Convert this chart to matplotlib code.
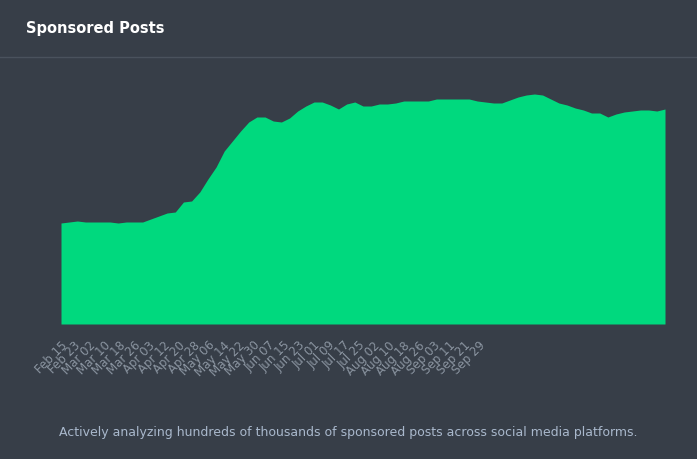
import matplotlib
matplotlib.use("Agg")
import matplotlib.pyplot as plt
import numpy as np

values = [101, 102, 103, 102, 102, 102, 102, 101, 102, 102, 102, 105, 108, 111, 112, 122, 123,
          132, 145, 157, 173, 183, 193, 202, 207, 207, 203, 202, 206, 213, 218, 222, 222, 219,
          215, 220, 222, 218, 218, 220, 220, 221, 223, 223, 223, 223, 225, 225, 225, 225, 225,
          223, 222, 221, 221, 224, 227, 229, 230, 229, 225, 221, 219, 216, 214, 211, 211, 207,
          210, 212, 213, 214, 214, 213, 215]
tick_labels = ["Feb 15", "Feb 23", "Mar 02", "Mar 10", "Mar 18", "Mar 26", "Apr 03", "Apr 12",
               "Apr 20", "Apr 28", "May 06", "May 14", "May 22", "May 30", "Jun 07", "Jun 15",
               "Jun 23", "Jul 01", "Jul 09", "Jul 17", "Jul 25", "Aug 02", "Aug 10", "Aug 18",
               "Aug 26", "Sep 03", "Sep 11", "Sep 21", "Sep 29"]

bg = "#373e48"
fig = plt.figure(figsize=(6.97, 4.60), dpi=100, facecolor=bg)
ax = fig.add_axes([61/697, 1-325/460, 604/697, 245/460], facecolor=bg)
x = np.arange(len(values))
ax.fill_between(x, 0, values, color="#00d97e", lw=0)
ax.set_xlim(0, len(values)-1)
ax.set_ylim(0, 245)
for s in ax.spines.values():
    s.set_visible(False)
ax.set_yticks([])
step = 15/604*(len(values)-1)
ticks = [-0.3 + i*step for i in range(len(tick_labels))]
ticks[0] = 0
ax.set_xticks(ticks)
ax.set_xticklabels(tick_labels, rotation=45, ha="right", rotation_mode="anchor",
                   color="#8a94a0", fontsize=8.5)
ax.tick_params(axis="x", length=0, pad=10)

fig.text(26/697, 1-28/460, "Sponsored Posts", color="white", fontsize=10.5,
         fontweight="bold", va="center", ha="left")
fig.add_artist(plt.Line2D([0, 1], [1-58/460, 1-58/460], color="#4a525d", lw=1))
fig.text(0.5, 1-433/460,
         "Actively analyzing hundreds of thousands of sponsored posts across social media platforms.",
         color="#a9b8cc", fontsize=9, ha="center", va="center")
fig.savefig("out.png", dpi=100, facecolor=bg)
